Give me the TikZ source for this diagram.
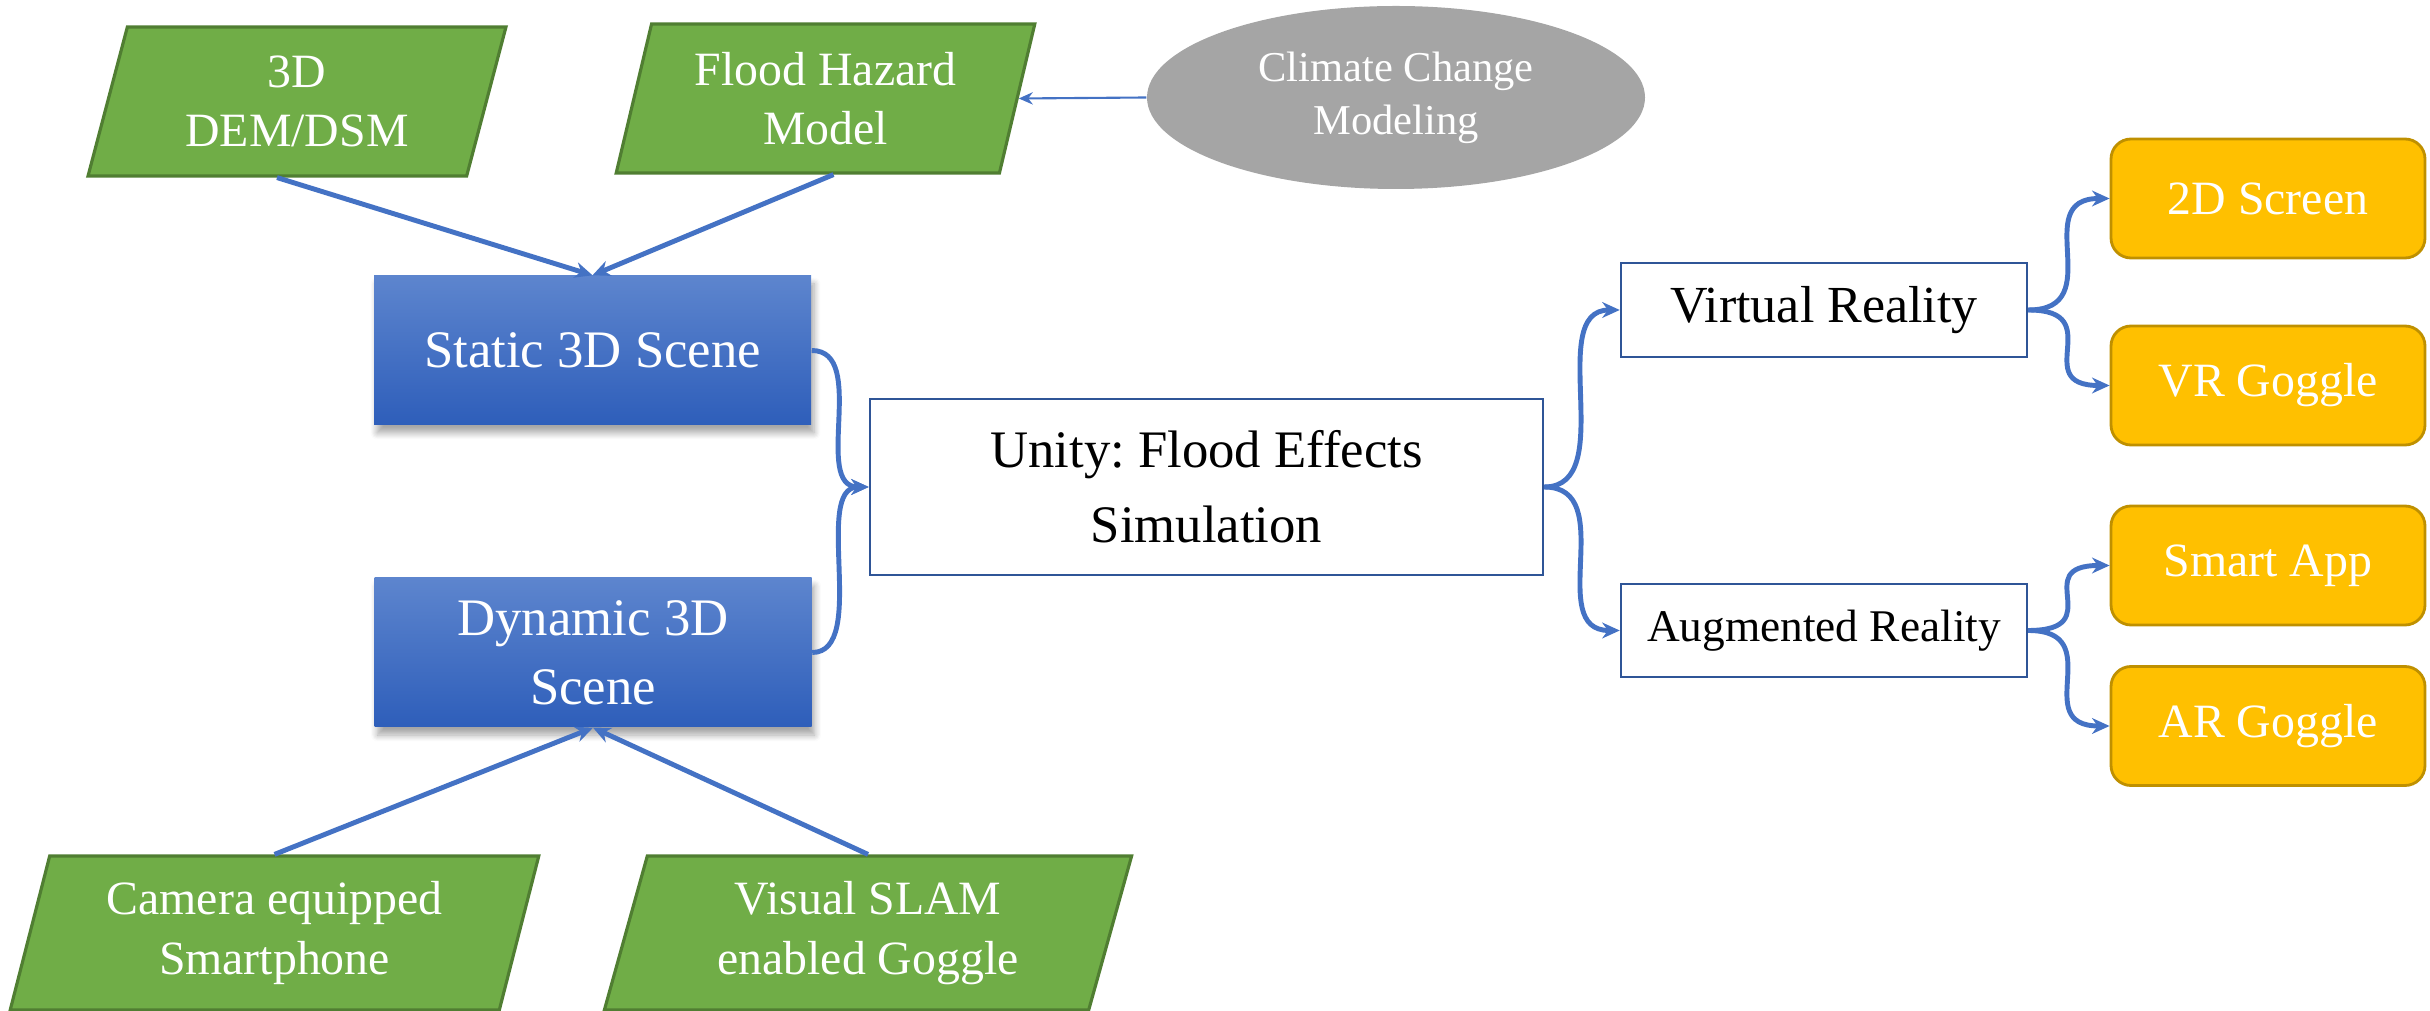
\documentclass[tikz,border=0pt]{standalone}
\usepackage{fontspec}
\setmainfont{Liberation Serif}
\frenchspacing
\usetikzlibrary{shapes.geometric}
\usetikzlibrary{arrows.meta}
\usetikzlibrary{calc, shadows.blur}
\definecolor{pfeil}{RGB}{68,114,196}
\definecolor{gruen}{RGB}{112,173,71}
\definecolor{gruenrand}{RGB}{80,126,50}
\definecolor{blauoben}{RGB}{93,133,206}
\definecolor{blauunten}{RGB}{46,94,186}
\definecolor{grau}{RGB}{165,165,165}
\definecolor{gelb}{RGB}{255,192,0}
\definecolor{gelbrand}{RGB}{191,144,0}
\definecolor{rahmen}{RGB}{47,85,151}

\begin{document}
\begin{tikzpicture}[
    eingabe/.style={trapezium, trapezium left angle=76, trapezium right angle=104,
        trapezium stretches=true, draw=gruenrand, line width=0.9pt, fill=gruen,
        text=white, align=center, font=\fontsize{13.6pt}{16.8pt}\selectfont},
    szene/.style={rectangle, minimum width=4.37cm, minimum height=1.49cm,
        top color=blauoben, bottom color=blauunten, text=white, align=center,
        blur shadow={shadow xshift=0.3mm, shadow yshift=-0.8mm, shadow blur steps=6, shadow opacity=35},
        font=\fontsize{15pt}{19.6pt}\selectfont},
    kasten/.style={rectangle, draw=rahmen, line width=0.7pt, fill=white, align=center},
    geraet/.style={rectangle, rounded corners=0.2cm, draw=gelbrand, line width=0.8pt,
        fill=gelb, text=white, minimum width=3.14cm, minimum height=1.19cm,
        font=\fontsize{13.6pt}{16.8pt}\selectfont},
    verbinder/.style={pfeil, line width=1.4pt, -{Stealth[length=5pt, width=4.5pt]}},
]

    \useasboundingbox (0,0) rectangle (24.3,-10.11);

    % Eingangsdaten oben
    \node[eingabe, minimum width=4.21cm, minimum height=1.49cm] (dem) at (2.97,-1.015) {3D\\DEM/DSM};
    \node[eingabe, minimum width=4.21cm, minimum height=1.49cm] (flood) at (8.255,-0.985) {Flood Hazard\\Model};
    \node[ellipse, fill=grau, minimum width=4.98cm, minimum height=1.83cm, text=white, align=center,
        font=\fontsize{12.1pt}{15pt}\selectfont] (climate) at (13.96,-0.975) {Climate Change\\Modeling};

    % Szenen
    \node[szene] (static) at (5.925,-3.505) {Static 3D Scene};
    \node[szene] (dynamic) at (5.93,-6.525) {Dynamic 3D\\Scene};

    % Eingangsdaten unten
    \node[eingabe, minimum width=5.29cm, minimum height=1.54cm, font=\fontsize{13.6pt}{17pt}\selectfont] (camera) at (2.745,-9.33) {Camera equipped\\Smartphone};
    \node[eingabe, minimum width=5.28cm, minimum height=1.54cm, font=\fontsize{13.6pt}{17pt}\selectfont] (slam) at (8.68,-9.33) {Visual SLAM\\enabled Goggle};

    % Simulation und Ausgabe
    \node[kasten, minimum width=6.73cm, minimum height=1.76cm, font=\fontsize{15pt}{21.3pt}\selectfont] (unity) at (12.065,-4.87) {Unity: Flood Effects\\Simulation};
    \node[kasten, minimum width=4.06cm, minimum height=0.94cm, font=\fontsize{14.8pt}{18pt}\selectfont] (vr) at (18.24,-3.10) {Virtual Reality};
    \node[kasten, minimum width=4.06cm, minimum height=0.93cm, font=\fontsize{12.9pt}{16pt}\selectfont] (ar) at (18.24,-6.305) {Augmented Reality};

    \node[geraet] (screen) at (22.68,-1.985) {2D Screen};
    \node[geraet] (vrgoggle) at (22.68,-3.855) {VR Goggle};
    \node[geraet] (app) at (22.68,-5.655) {Smart App};
    \node[geraet] (argoggle) at (22.68,-7.26) {AR Goggle};

    % gerade Pfeile
    \draw[verbinder] ([xshift=-2mm]dem.south) -- (static.north);
    \draw[verbinder] ([xshift=0.8mm]flood.south) -- (static.north);
    \draw[verbinder] (camera.north) -- (dynamic.south);
    \draw[verbinder] (slam.north) -- (dynamic.south);
    \draw[pfeil, line width=0.6pt, -{Stealth[length=4pt, width=3.5pt]}] (climate.west) -- (flood.east);

    % gebogene Pfeile
    \draw[verbinder] (static.east) .. controls (static.east -| unity.west) and (unity.west -| static.east) .. (unity.west);
    \draw[verbinder] (dynamic.east) .. controls (dynamic.east -| unity.west) and (unity.west -| dynamic.east) .. (unity.west);

    \draw[verbinder] (unity.east) .. controls (unity.east -| vr.west) and (vr.west -| unity.east) .. (vr.west);
    \draw[verbinder] (unity.east) .. controls (unity.east -| ar.west) and (ar.west -| unity.east) .. (ar.west);

    \draw[verbinder] (vr.east) .. controls (vr.east -| screen.west) and (screen.west -| vr.east) .. (screen.west);
    \draw[verbinder] (vr.east) .. controls (vr.east -| vrgoggle.west) and (vrgoggle.west -| vr.east) .. (vrgoggle.west);
    \draw[verbinder] (ar.east) .. controls (ar.east -| app.west) and (app.west -| ar.east) .. (app.west);
    \draw[verbinder] (ar.east) .. controls (ar.east -| argoggle.west) and (argoggle.west -| ar.east) .. (argoggle.west);

\end{tikzpicture}
\end{document}
